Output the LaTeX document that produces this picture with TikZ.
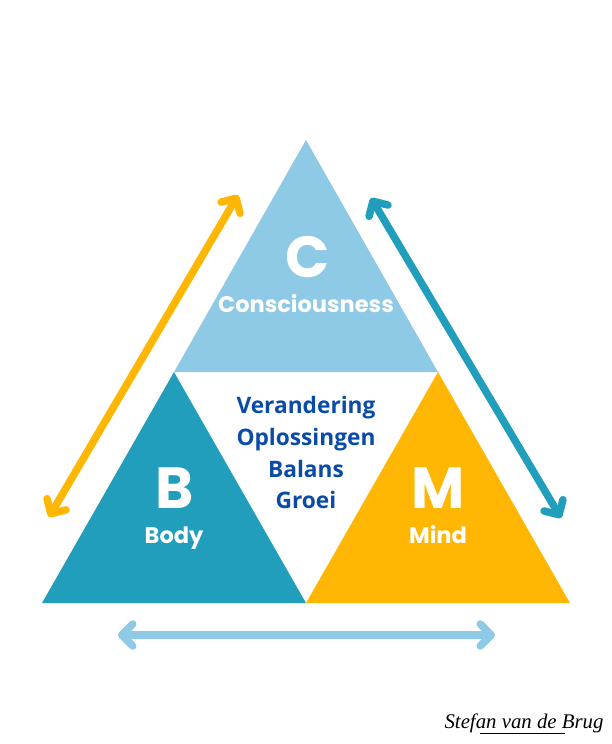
\documentclass[tikz,border=0pt]{standalone}
\usepackage{fontspec}
\usepackage{tikz}
\usetikzlibrary{arrows.meta,positioning,calc}
\setmainfont{Poppins}
\newfontfamily\opensans{Open Sans}
\newfontfamily\signfont{Liberation Serif}
\definecolor{lightblue}{HTML}{8ECAE6}
\definecolor{tealblue}{HTML}{219EBC}
\definecolor{amber}{HTML}{FFB703}
\definecolor{deepblue}{HTML}{0B4BA8}
\tikzset{
    letter/.style={text=white,anchor=base,inner sep=0pt,font=\fontsize{58}{58}\selectfont\bfseries},
    word/.style={text=white,anchor=base,inner sep=0pt,font=\fontsize{22.5}{24}\selectfont\bfseries},
    change/.style={text=deepblue,anchor=base,inner sep=0pt,font=\opensans\fontsize{22.7}{28}\selectfont\bfseries},
    twoway/.style={line width=7.5pt,line cap=round,line join=round,{Straight Barb[length=11pt,width=22pt,round]}-{Straight Barb[length=11pt,width=22pt,round]}}
}
\begin{document}
\begin{tikzpicture}[x=1pt,y=-1pt]
    \useasboundingbox (0,0) rectangle (612,744);
    % triangles
    \fill[lightblue] (306,140) -- (438,372) -- (174,372) -- cycle;
    \fill[tealblue] (174,372) -- (306,603) -- (42,603) -- cycle;
    \fill[amber] (438,372) -- (570,603) -- (306,603) -- cycle;
    % arrow ends
    \coordinate (bodyend) at (49,517);
    \coordinate (consleft) at (238,195);
    \coordinate (consright) at (371,198);
    \coordinate (mindend) at (561,518);
    \coordinate (baseleft) at (118,635);
    \coordinate (baseright) at (495,635);
    \draw[twoway,amber] (bodyend) -- (consleft);
    \draw[twoway,tealblue] (consright) -- (mindend);
    \draw[twoway,lightblue] (baseleft) -- (baseright);
    % labels
    \node[letter] (cletter) at (307.5,277) {C};
    \node[word] (cword) at (306,312) {Consciousness};
    \node[letter] (bletter) at (175,508) {B};
    \node[word] (bword) at (174,543) {Body};
    \node[letter] (mletter) at (438,508) {M};
    \node[word] (mword) at (438,543) {Mind};
    \node[change] (verandering) at (306,413) {Verandering};
    \node[change] (oplossingen) at (306,445) {Oplossingen};
    \node[change] (balans) at (306,477) {Balans};
    \node[change] (groei) at (306,508) {Groei};
    % signature
    \node[anchor=base,inner sep=0pt,font=\signfont\itshape\fontsize{20.8}{21}\selectfont] (signature) at (524,728) {Stefan van de Brug};
    \coordinate (lineleft) at (480,733);
    \coordinate (lineright) at (565,733);
    \draw[line width=1pt] (lineleft) -- (lineright);
\end{tikzpicture}
\end{document}
